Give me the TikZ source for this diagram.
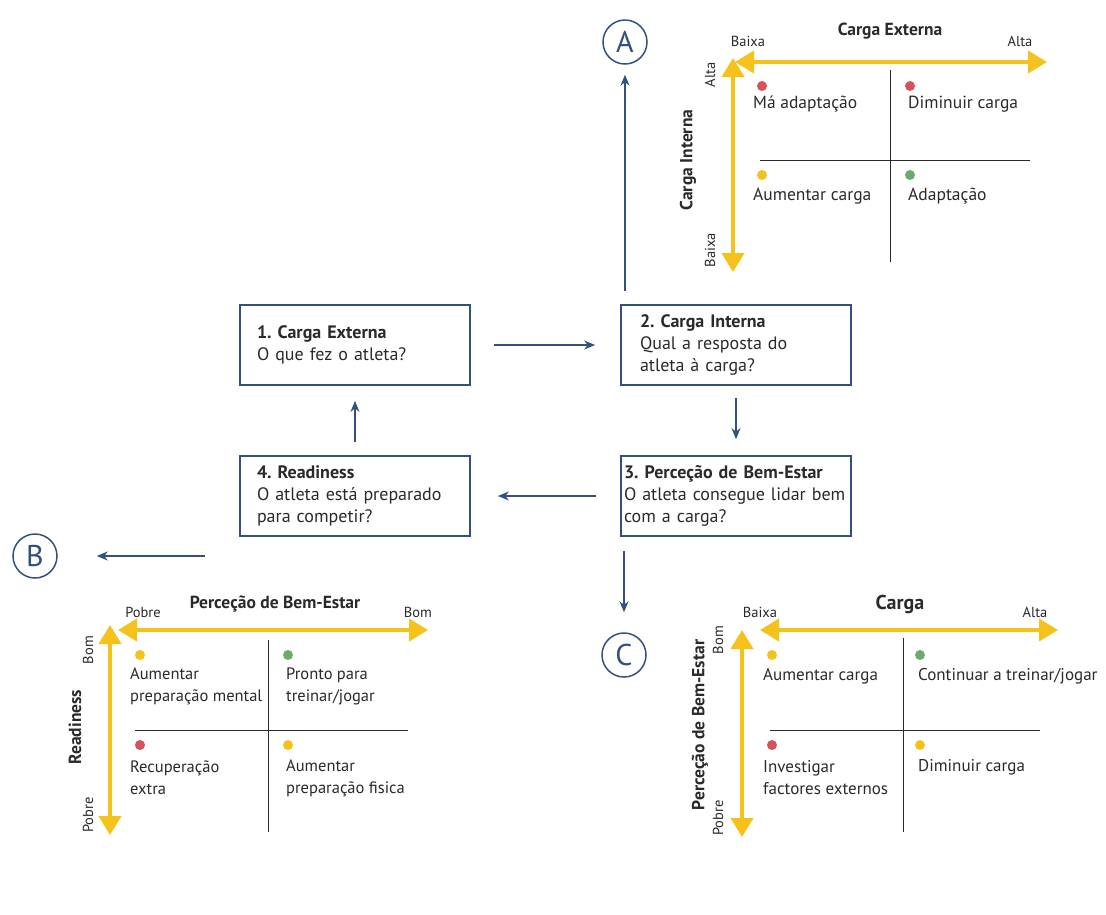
\documentclass[tikz,border=0pt]{standalone}
\usepackage{fontspec}
\setmainfont{PT Sans}
\usetikzlibrary{arrows.meta}
\definecolor{navy}{HTML}{34507F}
\definecolor{gold}{HTML}{F4C21A}
\definecolor{dred}{HTML}{D9515B}
\definecolor{dgreen}{HTML}{6DAA6D}
\definecolor{ink}{HTML}{2A2A2A}
\begin{document}
\frenchspacing
\begin{tikzpicture}[x=1pt,y=-1pt,
  box/.style={draw=navy, line width=1.8pt, minimum width=230pt, minimum height=80pt, align=left, font=\fontsize{18}{22}\selectfont, text=ink},
  boxm/.style={box, inner xsep=#1, text width=230pt-2*#1},
  flow/.style={-{Stealth[length=11pt,width=9pt]}, draw=navy, line width=1.3pt},
  circ/.style={circle, draw=navy, line width=1.5pt, minimum size=44pt, inner sep=0pt, font=\fontsize{30}{30}\selectfont, text=navy},
  yarr/.style={{Triangle[length=19pt,width=22pt]}-{Triangle[length=19pt,width=22pt]}, draw=gold, line width=4pt},
  div/.style={draw=ink, line width=1pt},
  dot/.style={circle, inner sep=0pt, minimum size=10pt},
  qt/.style={anchor=west, font=\fontsize{17.5}{22}\selectfont, align=left, inner sep=0pt, text=ink},
  qtb/.style={qt, font=\fontsize{16.5}{22}\selectfont},
  qtc/.style={qt, font=\fontsize{17}{22}\selectfont},
  ax/.style={font=\fontsize{14.5}{14.5}\selectfont, inner sep=0pt, text=ink},
  axt/.style={font=\bfseries\fontsize{17.5}{17.5}\selectfont, inner sep=0pt, text=ink}]
\useasboundingbox[fill=white] (0,0) rectangle (1106,914);

% flow boxes
\node[boxm=17pt] (b1) at (355,345) {\textbf{1. Carga Externa}\\O que fez o atleta?};
\node[boxm=19pt] (b2) at (736,345) {\textbf{2. Carga Interna}\\Qual a resposta do\\atleta à carga?};
\node[boxm=17pt] (b4) at (355,496) {\textbf{4. Readiness}\\O atleta está preparado\\para competir?};
\node[boxm=3pt] (b3) at (736,496) {\textbf{3. Perceção de Bem-Estar}\\O atleta consegue lidar bem\\com a carga?};

% circles
\node[circ] (A) at (625,42) {A};
\node[circ] (B) at (35,556) {B};
\node[circ] (C) at (624,655) {C};

% flow arrows
\draw[flow] ([xshift=23pt]b1.east) -- ([xshift=-25pt]b2.west);
\draw[flow] ([yshift=-12pt]b2.south) -- ([yshift=16pt]b3.north);
\draw[flow] ([xshift=-24pt]b3.west) -- ([xshift=27pt]b4.east);
\draw[flow] ([yshift=13pt]b4.north) -- ([yshift=-15pt]b1.south);
\path ([yshift=13pt]b2.north) coordinate (t2);
\draw[flow] (A.south |- t2) -- ([yshift=-10pt]A.south);
\coordinate (bstart) at (205,556);
\draw[flow] (bstart) -- ([xshift=39pt]B.east);
\path ([yshift=-14pt]b3.south) coordinate (t3);
\draw[flow] (C.north |- t3) -- ([yshift=20pt]C.north);

% ---------- Quadrant A ----------
\coordinate (ah1) at (735,62); \coordinate (ah2) at (1047,62);
\coordinate (av1) at (733,58); \coordinate (av2) at (733,272);
\draw[div] (890,70) -- (890,262);
\draw[div] (760,160) -- (1030,160);
\draw[yarr] (ah1) -- (ah2);
\draw[yarr] (av1) -- (av2);
\node[ax] (aBx) at (748,41) {Baixa};
\node[axt] (aT) at (890,31) {Carga Externa};
\node[ax] (aAl) at (1020,41) {Alta};
\node[ax, rotate=90] (aAl2) at (710,75) {Alta};
\node[axt, rotate=90] (aT2) at (688,160) {Carga Interna};
\node[ax, rotate=90] (aBx2) at (710,250) {Baixa};
\node[dot, fill=dred] (ad1) at (762,86) {};
\node[dot, fill=dred] (ad2) at (910,86) {};
\node[dot, fill=gold] (ad3) at (762,175) {};
\node[dot, fill=dgreen] (ad4) at (910,175) {};
\node[qt] (aq1) at (753,104) {Má adaptação};
\node[qt] (aq2) at (908,104) {Diminuir carga};
\node[qt] (aq3) at (753,196) {Aumentar carga};
\node[qt] (aq4) at (908,196) {Adaptação};

% ---------- Quadrant B ----------
\coordinate (bh1) at (118,630); \coordinate (bh2) at (428,630);
\coordinate (bv1) at (110,625); \coordinate (bv2) at (110,835);
\draw[div] (268,640) -- (268,832);
\draw[div] (135,730) -- (408,730);
\draw[yarr] (bh1) -- (bh2);
\draw[yarr] (bv1) -- (bv2);
\node[ax] (bPo) at (143,612) {Pobre};
\node[axt] (bT) at (275,604) {Perceção de Bem-Estar};
\node[ax] (bBo) at (418,612) {Bom};
\node[ax, rotate=90] (bBo2) at (88,650) {Bom};
\node[axt, rotate=90] (bT2) at (75,727) {Readiness};
\node[ax, rotate=90] (bPo2) at (88,815) {Pobre};
\node[dot, fill=gold] (bd1) at (140,655) {};
\node[dot, fill=dgreen] (bd2) at (288,655) {};
\node[dot, fill=dred] (bd3) at (140,745) {};
\node[dot, fill=gold] (bd4) at (288,745) {};
\node[qtb] (bq1) at (130,686) {Aumentar\\preparação mental};
\node[qtb] (bq2) at (286,686) {Pronto para\\treinar/jogar};
\node[qtb] (bq3) at (130,778) {Recuperação\\extra};
\node[qtb] (bq4) at (286,778) {Aumentar\\preparação fisica};

% ---------- Quadrant C ----------
\coordinate (ch1) at (760,630); \coordinate (ch2) at (1058,630);
\coordinate (cv1) at (742,630); \coordinate (cv2) at (742,837);
\draw[div] (903,638) -- (903,832);
\draw[div] (770,730) -- (1040,730);
\draw[yarr] (ch1) -- (ch2);
\draw[yarr] (cv1) -- (cv2);
\node[ax] (cBx) at (760,612) {Baixa};
\node[axt, font=\bfseries\fontsize{20}{20}\selectfont] (cT) at (900,604) {Carga};
\node[ax] (cAl) at (1035,612) {Alta};
\node[ax, rotate=90] (cBo2) at (718,640) {Bom};
\node[axt, rotate=90] (cT2) at (700,725) {Perceção de Bem-Estar};
\node[ax, rotate=90] (cPo2) at (718,818) {Pobre};
\node[dot, fill=gold] (cd1) at (772,655) {};
\node[dot, fill=dgreen] (cd2) at (920,655) {};
\node[dot, fill=dred] (cd3) at (772,745) {};
\node[dot, fill=gold] (cd4) at (920,745) {};
\node[qtc] (cq1) at (763,676) {Aumentar carga};
\node[qtc] (cq2) at (918,676) {Continuar a treinar/jogar};
\node[qtc] (cq3) at (763,778) {Investigar\\factores externos};
\node[qtc] (cq4) at (918,767) {Diminuir carga};
\end{tikzpicture}
\end{document}
